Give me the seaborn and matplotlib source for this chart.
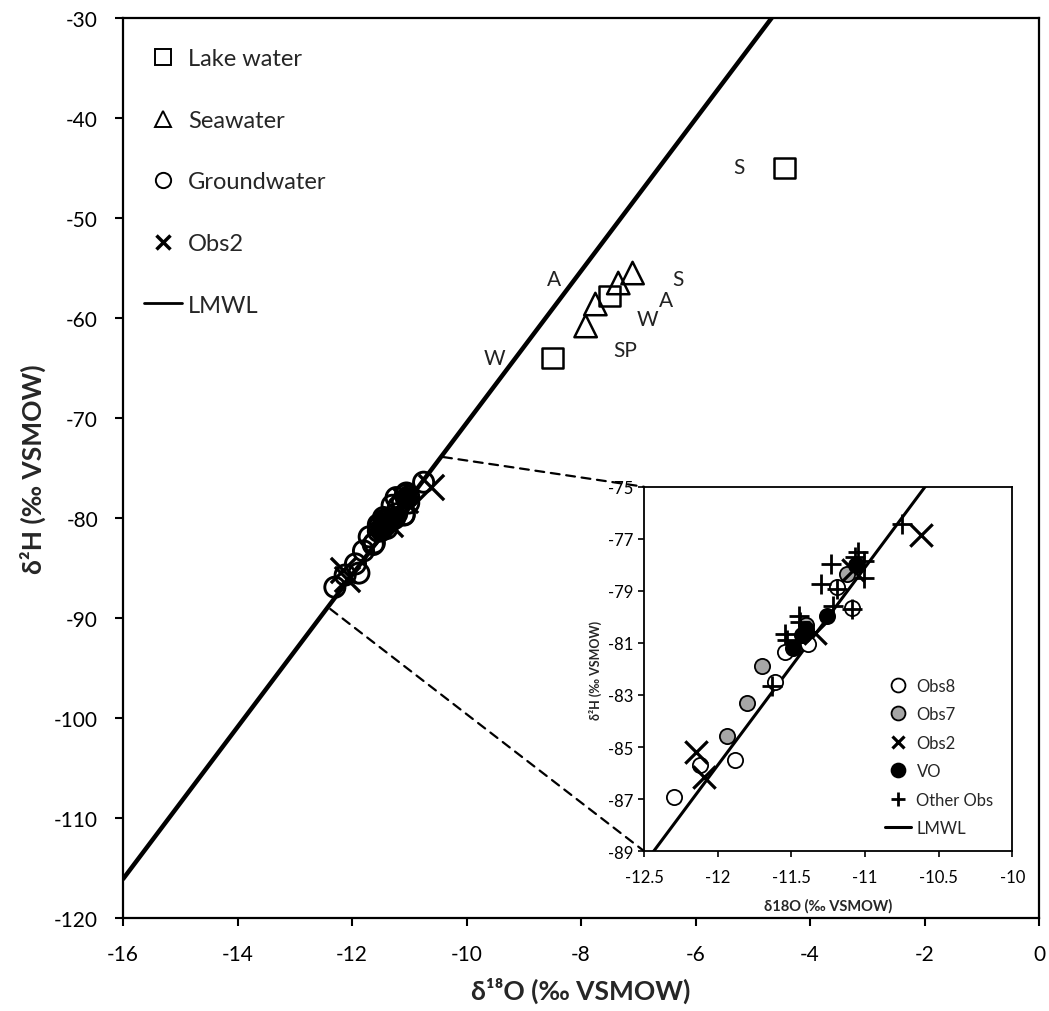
import matplotlib
matplotlib.use("Agg")
import matplotlib.pyplot as plt
from matplotlib.lines import Line2D
from matplotlib.patches import ConnectionPatch
import seaborn as sns

# --- data ---
lake_x = [-4.45, -7.50, -8.50]
lake_y = [-45.0, -57.8, -64.0]

sea_x = [-7.92, -7.75, -7.35, -7.10]
sea_y = [-60.8, -58.6, -56.5, -55.5]

season_text = ["S", "A", "W", "S", "A", "W", "SP"]
season_x = [-5.25, -8.48, -9.51, -6.30, -6.52, -6.84, -7.22]
season_y = [-44.9, -56.1, -64.0, -56.1, -58.2, -60.1, -63.2]

obs8_x = [-12.30, -12.12, -11.88, -11.61, -11.54, -11.39, -11.09, -11.43, -11.19]
obs8_y = [-86.92, -85.70, -85.51, -82.49, -81.33, -81.04, -79.66, -80.70, -78.85]

obs7_x = [-11.70, -11.80, -11.94, -11.12, -11.40]
obs7_y = [-81.88, -83.29, -84.59, -78.35, -80.30]

obs2_x = [-12.15, -12.09, -10.62, -11.34, -11.08]
obs2_y = [-85.21, -86.14, -76.85, -80.60, -78.20]

vo_x = [-11.26, -11.49, -11.40, -11.42, -11.06]
vo_y = [-79.98, -81.21, -80.47, -80.70, -78.00]

other_x = [-10.75, -11.23, -11.30, -11.19, -11.22, -11.09, -11.45, -11.44,
           -11.54, -11.53, -11.05, -11.01, -11.01, -11.07, -11.63]
other_y = [-76.42, -77.96, -78.73, -78.92, -79.58, -79.70, -79.95, -80.20,
           -80.66, -80.90, -77.50, -77.85, -78.50, -77.70, -82.65]

# LMWL end points (d2H = 7.6 d18O + 5.5)
lmwl_x = [-16.0, -4.0]
lmwl_y = [-116.1, -24.9]

sns.set_theme(style="white")
plt.rcParams["font.family"] = ["Lato", "DejaVu Sans"]
plt.rcParams["axes.unicode_minus"] = False

fig = plt.figure(figsize=(10.49, 10.12), dpi=100)
ax = fig.add_axes([0.1173, 0.0919, 0.8732, 0.8893])

sns.lineplot(x=lmwl_x, y=lmwl_y, ax=ax, color="black", lw=3.2, zorder=2)

gw_x = obs8_x + obs7_x + other_x
gw_y = obs8_y + obs7_y + other_y
sns.scatterplot(x=gw_x, y=gw_y, ax=ax, marker="o", s=210, fc="none",
                ec="black", linewidth=2.1, zorder=3)
sns.scatterplot(x=vo_x, y=vo_y, ax=ax, marker="o", s=210, fc="black",
                ec="black", linewidth=2.1, zorder=3)
sns.scatterplot(x=obs2_x, y=obs2_y, ax=ax, marker="x", s=330, color="black",
                linewidth=2.4, zorder=4)
sns.scatterplot(x=lake_x, y=lake_y, ax=ax, marker="s", s=220, fc="none",
                ec="black", linewidth=1.8, zorder=3)
sns.scatterplot(x=sea_x, y=sea_y, ax=ax, marker="^", s=260, fc="none",
                ec="black", linewidth=1.8, zorder=3)

for t, x, y in zip(season_text, season_x, season_y):
    ax.text(x, y, t, fontsize=15, ha="center", va="center", color="#222222")

ax.set_xlim(-16, 0)
ax.set_ylim(-120, -30)
ax.set_xticks(range(-16, 1, 2))
ax.set_yticks(range(-120, -29, 10))
ax.tick_params(axis="both", direction="out", length=6, width=1.5,
               labelsize=15, colors="black", bottom=True, left=True)
ax.tick_params(axis="x", pad=13)
ax.tick_params(axis="y", pad=12)
for sp in ax.spines.values():
    sp.set_color("black")
    sp.set_linewidth(1.6)
ax.set_xlabel("δ¹⁸O (‰ VSMOW)", fontsize=19, fontweight="bold", labelpad=9)
ax.set_ylabel("δ²H (‰ VSMOW)", fontsize=19, fontweight="bold", labelpad=6)

main_handles = [
    Line2D([], [], ls="none", marker="s", ms=11, mfc="none", mec="black", mew=1.4),
    Line2D([], [], ls="none", marker="^", ms=11, mfc="none", mec="black", mew=1.4),
    Line2D([], [], ls="none", marker="o", ms=11, mfc="none", mec="black", mew=1.4),
    Line2D([], [], ls="none", marker="x", ms=10, mec="black", mew=2.5),
    Line2D([], [], color="black", lw=2.0),
]
ax.legend(main_handles, ["Lake water", "Seawater", "Groundwater", "Obs2", "LMWL"],
          loc="upper left", bbox_to_anchor=(0.0, 0.99), frameon=False,
          fontsize=17, labelspacing=1.72, handlelength=1.6, handletextpad=0.25)

# --- inset ---
axi = fig.add_axes([0.614, 0.158, 0.351, 0.360])
axi.set_facecolor("white")
sns.lineplot(x=lmwl_x, y=lmwl_y, ax=axi, color="black", lw=2.2, zorder=2)
sns.scatterplot(x=obs8_x, y=obs8_y, ax=axi, marker="o", s=120, fc="white",
                ec="black", linewidth=1.3, zorder=3)
sns.scatterplot(x=obs7_x, y=obs7_y, ax=axi, marker="o", s=120, fc="#a6a6a6",
                ec="black", linewidth=1.3, zorder=3)
sns.scatterplot(x=vo_x, y=vo_y, ax=axi, marker="o", s=120, fc="black",
                ec="black", linewidth=1.3, zorder=3)
sns.scatterplot(x=obs2_x, y=obs2_y, ax=axi, marker="x", s=260, color="black",
                linewidth=2.3, zorder=4)
sns.scatterplot(x=other_x, y=other_y, ax=axi, marker="+", s=200, color="black",
                linewidth=2.0, zorder=4)

axi.set_xlim(-12.5, -10)
axi.set_ylim(-89, -75)
axi.set_xticks([-12.5, -12, -11.5, -11, -10.5, -10])
axi.set_xticklabels(["-12.5", "-12", "-11.5", "-11", "-10.5", "-10"])
axi.set_yticks(range(-89, -74, 2))
axi.tick_params(axis="both", direction="out", length=4, width=1.2,
                labelsize=12, colors="black", bottom=True, left=True, pad=4)
axi.tick_params(axis="x", pad=9)
for sp in axi.spines.values():
    sp.set_color("black")
    sp.set_linewidth(1.3)
axi.set_xlabel("δ18O (‰ VSMOW)", fontsize=10.5, fontweight="bold", labelpad=9)
axi.set_ylabel("δ²H (‰ VSMOW)", fontsize=9, fontweight="bold", labelpad=4)

inset_handles = [
    Line2D([], [], ls="none", marker="o", ms=10, mfc="white", mec="black", mew=1.3),
    Line2D([], [], ls="none", marker="o", ms=10, mfc="#a6a6a6", mec="black", mew=1.3),
    Line2D([], [], ls="none", marker="x", ms=9, mec="black", mew=2.3),
    Line2D([], [], ls="none", marker="o", ms=10, mfc="black", mec="black", mew=1.3),
    Line2D([], [], ls="none", marker="+", ms=10, mec="black", mew=2.0),
    Line2D([], [], color="black", lw=2.2),
]
axi.legend(inset_handles, ["Obs8", "Obs7", "Obs2", "VO", "Other Obs", "LMWL"],
           loc="lower right", bbox_to_anchor=(0.99, 0.0), frameon=False,
           fontsize=12, labelspacing=0.75, handlelength=1.6, handletextpad=0.3)

# dashed zoom connectors
for xa, ya, xb, yb in [(-10.41, -73.9, 0, 1), (-12.38, -89.1, 0, 0)]:
    con = ConnectionPatch(xyA=(xa, ya), coordsA=ax.transData,
                          xyB=(xb, yb), coordsB=axi.transAxes,
                          ls=(0, (4, 3)), lw=1.6, color="black")
    fig.add_artist(con)

fig.savefig("out.png", dpi=100)
